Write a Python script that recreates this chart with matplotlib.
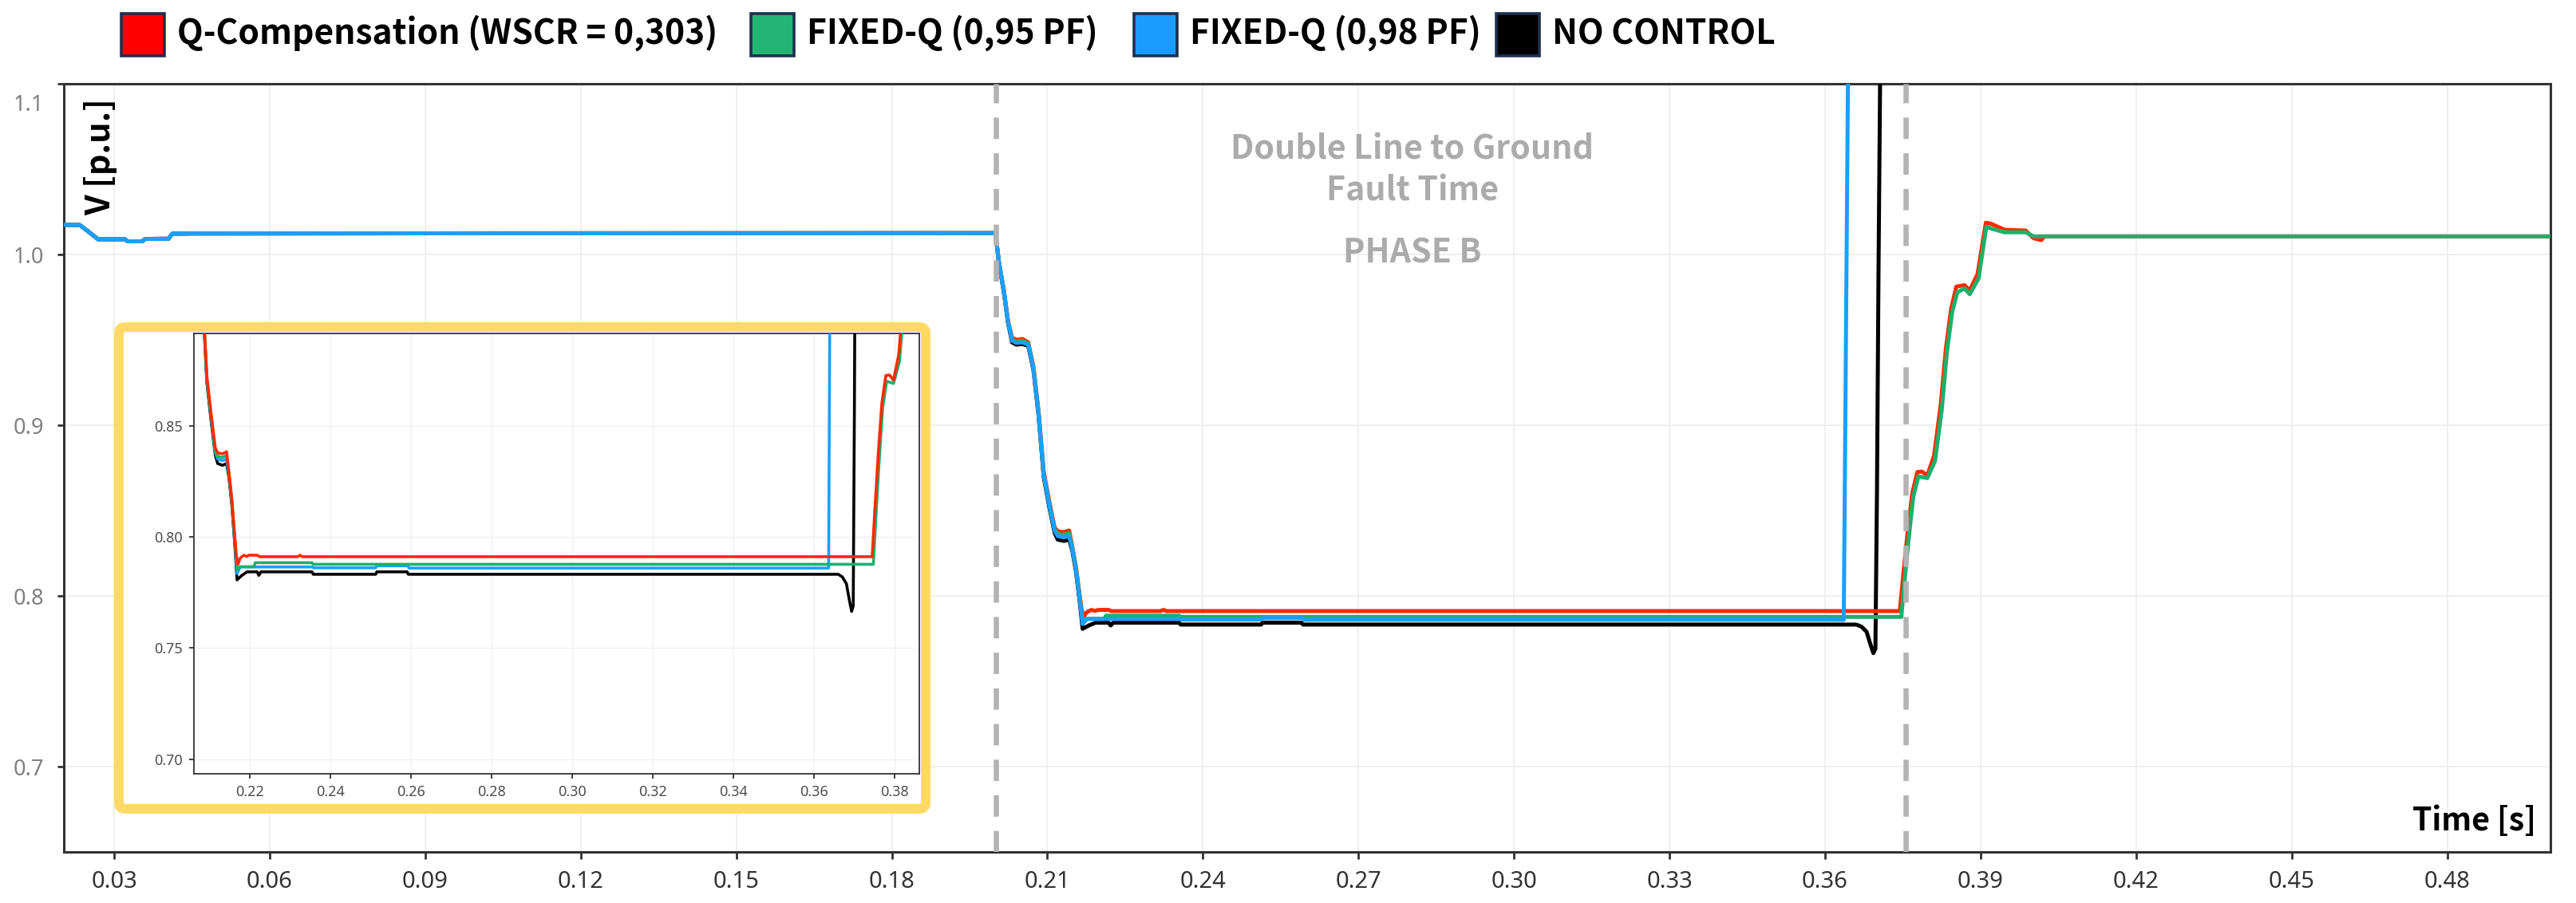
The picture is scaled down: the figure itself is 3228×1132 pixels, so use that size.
import matplotlib
matplotlib.use('Agg')
import matplotlib.pyplot as plt
from matplotlib.patches import Rectangle, FancyBboxPatch
from matplotlib.transforms import IdentityTransform
from matplotlib.font_manager import findfont, FontProperties

W, H = 3228, 1132
DPI = 100
plt.rcParams['font.family'] = ['Noto Sans', 'DejaVu Sans']

# ---------------- data ----------------
series_names = ['Q-Compensation (WSCR = 0,303)', 'FIXED-Q (0,95 PF)',
                'FIXED-Q (0,98 PF)', 'NO CONTROL']
line_colors = ['#FF2A00', '#1DB06C', '#1A9FFF', '#000000']
legend_colors = ['#FF0000', '#22B573', '#1A9BFF', '#000000']

# common pre-fault part (all series overlap)
t_pre = [0.0203, 0.0234, 0.0250, 0.0269, 0.0321, 0.0326, 0.0354, 0.0360,
         0.0405, 0.0412, 0.0445, 0.1000, 0.2000]
v_pre = [1.0174, 1.0172, 1.0135, 1.0089, 1.0089, 1.0077, 1.0077, 1.0091,
         1.0092, 1.0121, 1.0123, 1.0124, 1.0125]

t_red = [0.2006, 0.2016, 0.2024, 0.2032, 0.2040, 0.2052, 0.2063, 0.2073, 0.2083,
         0.2093, 0.2104, 0.2114, 0.2120, 0.2132, 0.2142, 0.2148, 0.2155, 0.2162,
         0.2166, 0.2170, 0.2176, 0.2185, 0.2192, 0.2198, 0.2218, 0.2224, 0.2318,
         0.2324, 0.2330, 0.3744, 0.3751, 0.3759, 0.3768, 0.3778, 0.3787, 0.3797,
         0.3810, 0.3823, 0.3833, 0.3843, 0.3853, 0.3869, 0.3879, 0.3894, 0.3910,
         0.3920, 0.3946, 0.3987, 0.4002, 0.4017, 0.4023, 0.4999]
v_red = [0.9965, 0.9790, 0.9612, 0.9510, 0.9500, 0.9505, 0.9485, 0.9345, 0.9080,
         0.8725, 0.8548, 0.8400, 0.8378, 0.8374, 0.8383, 0.8290, 0.8170, 0.8010,
         0.7920, 0.7877, 0.7905, 0.7918, 0.7912, 0.7918, 0.7918, 0.7911, 0.7911,
         0.7918, 0.7911, 0.7911, 0.8130, 0.8370, 0.8600, 0.8726, 0.8728, 0.8705,
         0.8820, 0.9120, 0.9450, 0.9680, 0.9812, 0.9820, 0.9790, 0.9885, 1.0186,
         1.0180, 1.0145, 1.0140, 1.0095, 1.0084, 1.0106, 1.0106]

t_grn = [0.2006, 0.2016, 0.2024, 0.2032, 0.2040, 0.2052, 0.2063, 0.2073, 0.2083,
         0.2093, 0.2104, 0.2114, 0.2120, 0.2132, 0.2142, 0.2148, 0.2155, 0.2162,
         0.2168, 0.2175, 0.2210, 0.2213, 0.2354, 0.2357, 0.3747, 0.3753, 0.3761,
         0.3770, 0.3780, 0.3797, 0.3812, 0.3825, 0.3835, 0.3845, 0.3855, 0.3869,
         0.3879, 0.3896, 0.3911, 0.3920, 0.3946, 0.3987, 0.4002, 0.4999]
v_grn = [0.9965, 0.9788, 0.9608, 0.9500, 0.9490, 0.9495, 0.9478, 0.9338, 0.9070,
         0.8712, 0.8535, 0.8388, 0.8362, 0.8358, 0.8366, 0.8285, 0.8165, 0.8000,
         0.7850, 0.7866, 0.7866, 0.7884, 0.7884, 0.7877, 0.7877, 0.8080, 0.8330,
         0.8580, 0.8700, 0.8690, 0.8790, 0.9090, 0.9430, 0.9660, 0.9778, 0.9801,
         0.9767, 0.9860, 1.0163, 1.0152, 1.0130, 1.0130, 1.0106, 1.0106]

t_blu = [0.2006, 0.2016, 0.2024, 0.2032, 0.2040, 0.2052, 0.2063, 0.2073, 0.2083,
         0.2093, 0.2104, 0.2114, 0.2120, 0.2132, 0.2142, 0.2148, 0.2155, 0.2162,
         0.2168, 0.2176, 0.2355, 0.2358, 0.2512, 0.2515, 0.2592, 0.2595, 0.3636,
         0.3644, 0.3646]
v_blu = [0.9965, 0.9786, 0.9607, 0.9495, 0.9482, 0.9485, 0.9472, 0.9335, 0.9065,
         0.8705, 0.8528, 0.8380, 0.8350, 0.8343, 0.8350, 0.8275, 0.8155, 0.7990,
         0.7835, 0.7865, 0.7865, 0.7861, 0.7861, 0.7870, 0.7870, 0.7860, 0.7860,
         1.1000, 1.1500]

t_blk = [0.2006, 0.2016, 0.2024, 0.2032, 0.2040, 0.2052, 0.2063, 0.2073, 0.2083,
         0.2093, 0.2104, 0.2114, 0.2120, 0.2132, 0.2142, 0.2148, 0.2155, 0.2162,
         0.2168, 0.2180, 0.2193, 0.2218, 0.2222, 0.2227, 0.2354, 0.2357, 0.2512,
         0.2515, 0.2590, 0.2593, 0.3660, 0.3670, 0.3680, 0.3687, 0.3693, 0.3697,
         0.3700, 0.3703, 0.3706, 0.3707]
v_blk = [0.9960, 0.9780, 0.9600, 0.9485, 0.9472, 0.9475, 0.9465, 0.9325, 0.9055,
         0.8695, 0.8515, 0.8368, 0.8330, 0.8322, 0.8330, 0.8265, 0.8145, 0.7975,
         0.7807, 0.7827, 0.7843, 0.7843, 0.7827, 0.7843, 0.7843, 0.7832, 0.7832,
         0.7843, 0.7843, 0.7832, 0.7832, 0.7820, 0.7790, 0.7720, 0.7665, 0.7690,
         0.8600, 0.9900, 1.1000, 1.1500]

fault_start, fault_end = 0.200, 0.3756
x_ticks = [0.03, 0.06, 0.09, 0.12, 0.15, 0.18, 0.21, 0.24, 0.27, 0.30, 0.33,
           0.36, 0.39, 0.42, 0.45, 0.48]
y_ticks = [0.7, 0.8, 0.9, 1.0, 1.1]
inset_x_ticks = [0.22, 0.24, 0.26, 0.28, 0.30, 0.32, 0.34, 0.36, 0.38]
inset_y_ticks = [0.70, 0.75, 0.80, 0.85]

series_t = [t_pre + t_red, t_pre + t_grn, t_pre + t_blu, t_pre + t_blk]
series_v = [v_pre + v_red, v_pre + v_grn, v_pre + v_blu, v_pre + v_blk]

# ---------------- pick a bold font that really has a bold face ----------------
bold_family = 'DejaVu Sans'
for fam in ['Noto Sans CJK KR', 'Open Sans', 'Lato', 'Roboto', 'Liberation Sans']:
    try:
        p = findfont(FontProperties(family=fam, weight='bold'), fallback_to_default=False)
    except Exception:
        continue
    if 'bold' in p.lower():
        bold_family = fam
        break
bold_fam = [bold_family, 'DejaVu Sans']

# ---------------- figure ----------------
fig = plt.figure(figsize=(W / DPI, H / DPI), dpi=DPI)
fig.patch.set_facecolor('white')
PX = IdentityTransform()


def fx(x):
    return x / W


def fy(y):
    return 1 - y / H


ax = fig.add_axes([fx(80), fy(1068), fx(3196) - fx(80), fy(105) - fy(1068)])
ax.set_xlim(0.0203, 0.4999)
ax.set_ylim(0.65, 1.1)
ax.set_axisbelow(True)
ax.grid(True, color='#EFEFEF', lw=1.4)
for s in ax.spines.values():
    s.set_color('#333333')
    s.set_linewidth(2.2)

main_order = [3, 0, 1, 2]   # black, red, green, blue (top)
for k, i in enumerate(main_order):
    ax.plot(series_t[i], series_v[i], color=line_colors[i], lw=3.6,
            solid_joinstyle='round', solid_capstyle='round', zorder=3 + k)

for xv in (fault_start, fault_end):
    ax.axvline(xv, color='#B3B3B3', lw=4.7, dashes=(4.1, 2.75), zorder=10)

ax.set_xticks(x_ticks)
ax.set_xticklabels([f'{v:.2f}' for v in x_ticks])
ax.set_yticks(y_ticks)
ax.set_yticklabels([f'{v:.1f}' if v < 1.05 else '' for v in y_ticks])
ax.tick_params(axis='x', length=6.5, width=2.0, color='#333333', pad=10,
               labelsize=21, labelcolor='#333333')
ax.tick_params(axis='y', length=5.8, width=2.0, color='#333333', pad=12,
               labelsize=19.5, labelcolor='#7F7F7F')
ax.annotate('1.1', xy=(0, 1.1), xycoords=('axes fraction', 'data'),
            xytext=(-25, -27), textcoords='offset pixels', ha='right', va='center',
            fontsize=19.5, color='#7F7F7F')

renderer = fig.canvas.get_renderer()


def fit(txt, target, use_height=False):
    bb = txt.get_window_extent(renderer=renderer)
    cur = bb.height if use_height else bb.width
    txt.set_fontsize(txt.get_fontsize() * target / cur)


# axis labels
ylab = fig.text(126, H - 196.5, 'V [p.u.]', rotation=90, ha='center', va='center',
                fontsize=26, fontweight='bold', family=bold_fam, transform=PX)
fit(ylab, 147, use_height=True)
xlab = fig.text(3178, H - 1030, 'Time [s]', ha='right', va='center',
                fontsize=26, fontweight='bold', family=bold_fam, transform=PX)
fit(xlab, 155)

# fault annotation
ann_col = '#ABABAB'
a1 = fig.text(1770, H - 200, 'Double Line to Ground', ha='center', va='baseline',
              fontsize=30, fontweight='bold', family=bold_fam, color=ann_col, transform=PX)
fit(a1, 455)
fs_ann = a1.get_fontsize()
fig.text(1770, H - 252, 'Fault Time', ha='center', va='baseline', fontsize=fs_ann,
         fontweight='bold', family=bold_fam, color=ann_col, transform=PX)
fig.text(1770, H - 330, 'PHASE B', ha='center', va='baseline', fontsize=fs_ann,
         fontweight='bold', family=bold_fam, color=ann_col, transform=PX)

# legend
sq_x = [152, 941, 1421, 1875]
lt0 = fig.text(222, H - 55, series_names[0], ha='left', va='baseline', fontsize=28,
               fontweight='bold', family=bold_fam, transform=PX)
fit(lt0, 678)
fs_leg = lt0.get_fontsize()
for i, name in enumerate(series_names):
    fig.add_artist(Rectangle((sq_x[i], H - 70), 54, 53, facecolor=legend_colors[i],
                             edgecolor='#1F2F4F', lw=2.6, transform=PX))
    if i > 0:
        fig.text(sq_x[i] + 70, H - 55, name, ha='left', va='baseline', fontsize=fs_leg,
                 fontweight='bold', family=bold_fam, transform=PX)

# inset frame (yellow)
box = FancyBboxPatch((149, H - 1014), 1011, 604,
                     boxstyle='round,pad=0,rounding_size=8', lw=8.6,
                     edgecolor='#FFD966', facecolor='white', transform=PX, zorder=2)
fig.add_artist(box)

ins = fig.add_axes([fx(243), fy(970), fx(1152) - fx(243), fy(418) - fy(970)])
ins.set_zorder(3)
ins.set_xlim(0.2061, 0.3861)
ins.set_ylim(0.6935, 0.8915)
ins.set_axisbelow(True)
ins.grid(True, color='#F1F1F1', lw=1.0)
for s in ins.spines.values():
    s.set_color('#333333')
    s.set_linewidth(1.3)
inset_order = [3, 2, 1, 0]  # black, blue, green, red (top)
for k, i in enumerate(inset_order):
    ins.plot(series_t[i], series_v[i], color=line_colors[i], lw=2.6,
             solid_joinstyle='round', zorder=3 + k)
ins.set_xticks(inset_x_ticks)
ins.set_xticklabels([f'{v:.2f}' for v in inset_x_ticks])
ins.set_yticks(inset_y_ticks)
ins.set_yticklabels([f'{v:.2f}' for v in inset_y_ticks])
ins.tick_params(length=4.5, width=1.3, color='#333333', pad=5.5, labelsize=13,
                labelcolor='#4D4D4D')

fig.savefig('out.png', dpi=DPI)
